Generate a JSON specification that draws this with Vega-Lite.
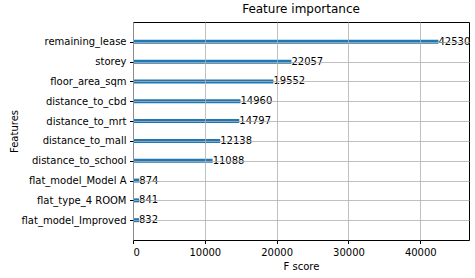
{
  "$schema": "https://vega.github.io/schema/vega-lite/v6.json",
  "width": 336,
  "height": 218,
  "autosize": {"type": "none"},
  "padding": {"left": 133, "top": 22, "right": 6, "bottom": 38},
  "background": "white",
  "config": {
    "font": "DejaVu Sans",
    "view": {"stroke": "black", "strokeWidth": 1},
    "axis": {
      "labelFont": "DejaVu Sans",
      "labelFontSize": 10,
      "labelColor": "black",
      "titleFont": "DejaVu Sans",
      "titleFontSize": 10,
      "titleFontWeight": "normal",
      "titleColor": "black",
      "tickColor": "black",
      "tickSize": 3.5,
      "labelPadding": 3.5,
      "domain": false,
      "grid": true,
      "gridColor": "#b0b0b0",
      "gridWidth": 0.8
    }
  },
  "title": {
    "text": "Feature importance",
    "font": "DejaVu Sans",
    "fontSize": 12,
    "fontWeight": "normal",
    "color": "black",
    "anchor": "middle",
    "offset": 6
  },
  "data": {
    "values": [
      {"feature": "remaining_lease", "score": 42530},
      {"feature": "storey", "score": 22057},
      {"feature": "floor_area_sqm", "score": 19552},
      {"feature": "distance_to_cbd", "score": 14960},
      {"feature": "distance_to_mrt", "score": 14797},
      {"feature": "distance_to_mall", "score": 12138},
      {"feature": "distance_to_school", "score": 11088},
      {"feature": "flat_model_Model A", "score": 874},
      {"feature": "flat_type_4 ROOM", "score": 841},
      {"feature": "flat_model_Improved", "score": 832}
    ]
  },
  "encoding": {
    "y": {
      "field": "feature",
      "type": "nominal",
      "sort": null,
      "scale": {"type": "point", "padding": 1},
      "axis": {"title": "Features", "titlePadding": 2, "zindex": 1}
    },
    "x": {
      "field": "score",
      "type": "quantitative",
      "scale": {"domain": [0, 46783], "nice": false, "zero": true},
      "axis": {"title": "F score", "values": [0, 10000, 20000, 30000, 40000], "format": "d", "titlePadding": 4, "zindex": 1}
    }
  },
  "layer": [
    {"mark": {"type": "bar", "size": 4, "color": "#1f77b4"}},
    {
      "mark": {"type": "text", "align": "left", "baseline": "middle", "fontSize": 10, "color": "black", "font": "DejaVu Sans"},
      "encoding": {"text": {"field": "score", "type": "quantitative", "format": "d"}}
    }
  ]
}
